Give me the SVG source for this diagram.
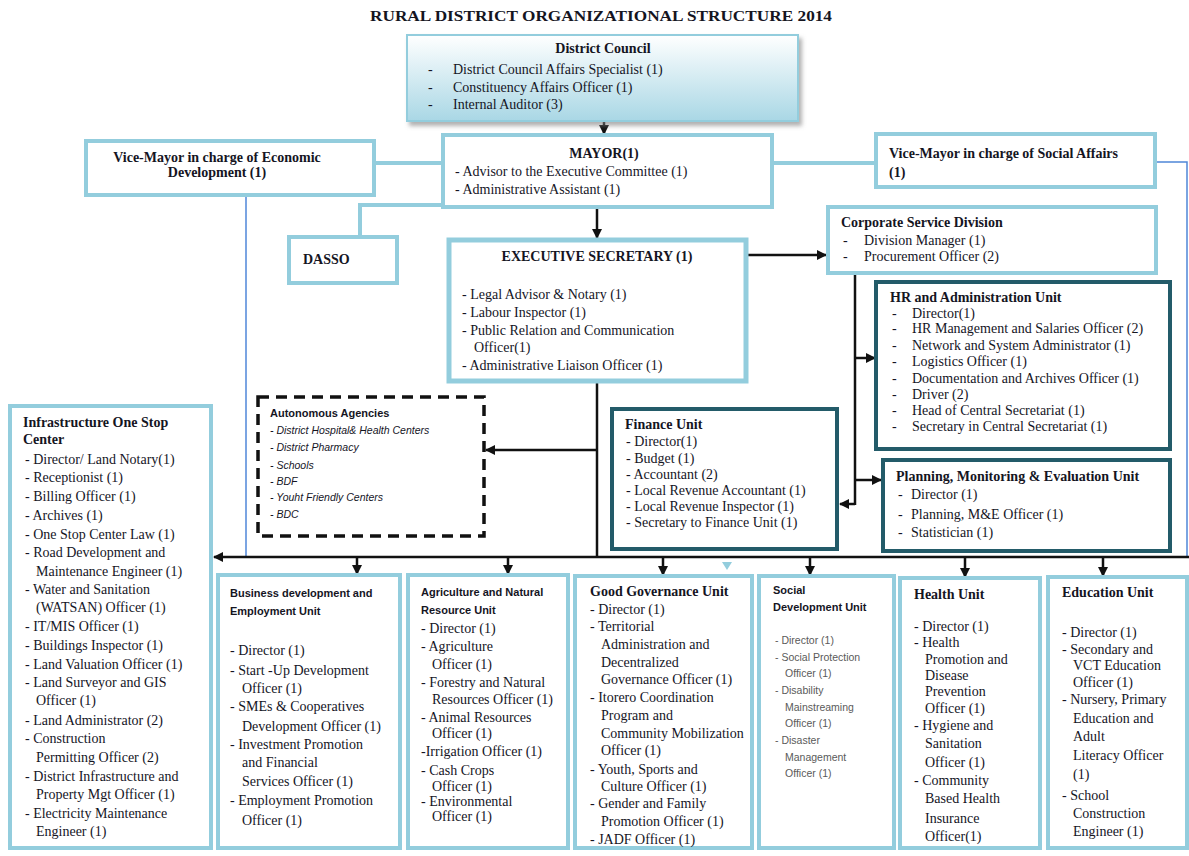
<svg xmlns="http://www.w3.org/2000/svg" width="1189" height="856" viewBox="0 0 1189 856">
<defs>
  <linearGradient id="councilFill" x1="0" y1="0" x2="0" y2="1">
    <stop offset="0" stop-color="#ffffff"/>
    <stop offset="1" stop-color="#a9d7e5"/>
  </linearGradient>
  <filter id="shadow" x="-5%" y="-10%" width="115%" height="130%">
    <feDropShadow dx="3" dy="4" stdDeviation="2" flood-color="#7f7f7f" flood-opacity="0.6"/>
  </filter>
  <marker id="arr" viewBox="0 0 10 10" refX="9" refY="5" markerWidth="10" markerHeight="10" markerUnits="userSpaceOnUse" orient="auto">
    <path d="M0,0 L10,5 L0,10 z" fill="#111"/>
  </marker>
</defs>
<style>
  text { font-family: "Liberation Serif", "DejaVu Serif", serif; font-size: 14px; fill: #15151f; }
  .b { font-weight: bold; }
  .c { text-anchor: middle; }
  .s { font-family: "Liberation Sans", Arial, sans-serif; font-size: 11px; }
  .si { font-family: "Liberation Sans", Arial, sans-serif; font-size: 10.5px; font-style: italic; }
  .sg { font-family: "Liberation Sans", Arial, sans-serif; font-size: 10.5px; fill: #5a5a5a; }
  .lb { fill: #ffffff; stroke: #93cddd; stroke-width: 4; }
  .dk { fill: #ffffff; stroke: #235b69; stroke-width: 4; }
  .ln { stroke: #111; stroke-width: 2.5; fill: none; }
  .bl { stroke: #93cddd; stroke-width: 4; fill: none; }
  .th { stroke: #4f86d8; stroke-width: 1.5; fill: none; }
</style>

<rect width="1189" height="856" fill="#ffffff"/>

<text class="b c" x="601" y="21" font-size="17" textLength="462" lengthAdjust="spacingAndGlyphs">RURAL DISTRICT ORGANIZATIONAL STRUCTURE 2014</text>

<!-- connectors -->
<g id="connectors">
  <line class="ln" x1="604" y1="121" x2="604" y2="134" marker-end="url(#arr)"/>
  <line class="bl" x1="374" y1="163" x2="443" y2="163"/>
  <line class="bl" x1="772" y1="163" x2="876" y2="163"/>
  <polyline class="bl" points="443,205 360,205 360,237"/>
  <line class="ln" x1="597" y1="207" x2="597" y2="238" marker-end="url(#arr)"/>
  <line class="ln" x1="746" y1="255" x2="826" y2="255" stroke-width="3" marker-end="url(#arr)"/>
  <line class="ln" x1="855" y1="273" x2="855" y2="505"/>
  <line class="ln" x1="855" y1="358" x2="875" y2="358" marker-end="url(#arr)"/>
  <line class="ln" x1="855" y1="480" x2="881" y2="480" marker-end="url(#arr)"/>
  <line class="ln" x1="855" y1="504" x2="840" y2="504" marker-end="url(#arr)"/>
  <line class="th" x1="246" y1="195" x2="246" y2="557"/>
  <polyline class="th" points="1157,162 1187,162 1187,557"/>
  <line class="ln" x1="597" y1="381" x2="597" y2="557" stroke-width="4"/>
  <line class="ln" x1="597" y1="450" x2="486" y2="450" marker-end="url(#arr)"/>
  <line class="ln" x1="1189" y1="557" x2="214" y2="557" stroke-width="3.5" marker-end="url(#arr)"/>
  <line class="ln" x1="357" y1="557" x2="357" y2="574" marker-end="url(#arr)"/>
  <line class="ln" x1="508" y1="557" x2="508" y2="574" marker-end="url(#arr)"/>
  <line class="ln" x1="663" y1="557" x2="663" y2="575" marker-end="url(#arr)"/>
  <line class="ln" x1="810" y1="557" x2="810" y2="575" marker-end="url(#arr)"/>
  <line class="ln" x1="965" y1="557" x2="965" y2="577" marker-end="url(#arr)"/>
  <line class="ln" x1="1103" y1="557" x2="1103" y2="576" marker-end="url(#arr)"/>
  <path d="M722,562 L732,562 L727,570 z" fill="#93cddd"/>
</g>

<g id="district-council">
  <rect x="407" y="35" width="391" height="86" fill="url(#councilFill)" stroke="#93cddd" stroke-width="2" filter="url(#shadow)"/>
  <text class="b c" x="603" y="53">District Council</text>
  <text x="428" y="74">-</text><text x="453" y="74">District Council Affairs Specialist (1)</text>
  <text x="428" y="92">-</text><text x="453" y="92">Constituency Affairs Officer (1)</text>
  <text x="428" y="109">-</text><text x="453" y="109">Internal Auditor (3)</text>
</g>

<g id="vice-mayor-economic">
  <rect class="lb" x="86" y="141" width="288" height="54"/>
  <text class="b c" x="217" y="162">Vice-Mayor in charge of Economic</text>
  <text class="b c" x="217" y="177">Development (1)</text>
</g>

<g id="mayor">
  <rect class="lb" x="443" y="135" width="329" height="72"/>
  <text class="b c" x="604" y="158">MAYOR(1)</text>
  <text x="455" y="176">- Advisor to the Executive Committee (1)</text>
  <text x="455" y="194">- Administrative Assistant (1)</text>
</g>

<g id="vice-mayor-social">
  <rect class="lb" x="876" y="134" width="279" height="53"/>
  <text class="b" x="889" y="158">Vice-Mayor in charge of Social Affairs</text>
  <text class="b" x="889" y="177">(1)</text>
</g>

<g id="dasso">
  <rect class="lb" x="289" y="237" width="108" height="46"/>
  <text class="b" x="303" y="264" font-size="16">DASSO</text>
</g>

<g id="executive-secretary">
  <rect x="449" y="240" width="297" height="141" fill="#fff" stroke="#93cddd" stroke-width="5"/>
  <text class="b c" x="597" y="261">EXECUTIVE SECRETARY (1)</text>
  <text x="462" y="299">- Legal Advisor &amp; Notary (1)</text>
  <text x="462" y="317">- Labour Inspector (1)</text>
  <text x="462" y="335">- Public Relation and Communication</text>
  <text x="474" y="352">Officer(1)</text>
  <text x="462" y="370">- Administrative Liaison Officer (1)</text>
</g>

<g id="corporate-service">
  <rect class="lb" x="828" y="207" width="328" height="66"/>
  <text class="b" x="841" y="227">Corporate Service Division</text>
  <text x="843" y="245">-</text><text x="864" y="245">Division Manager (1)</text>
  <text x="843" y="261">-</text><text x="864" y="261">Procurement Officer (2)</text>
</g>

<g id="hr-administration">
  <rect class="dk" x="876" y="282" width="294" height="167"/>
  <text class="b" x="890" y="302">HR and Administration Unit</text>
  <text x="892" y="318">-</text><text x="912" y="318">Director(1)</text>
  <text x="892" y="333">-</text><text x="912" y="333">HR Management and Salaries Officer  (2)</text>
  <text x="892" y="350">-</text><text x="912" y="350">Network and System Administrator (1)</text>
  <text x="892" y="366">-</text><text x="912" y="366">Logistics Officer (1)</text>
  <text x="892" y="383">-</text><text x="912" y="383">Documentation and Archives Officer (1)</text>
  <text x="892" y="399">-</text><text x="912" y="399">Driver (2)</text>
  <text x="892" y="415">-</text><text x="912" y="415">Head of Central Secretariat (1)</text>
  <text x="892" y="431">-</text><text x="912" y="431">Secretary in Central Secretariat (1)</text>
</g>

<g id="planning-me">
  <rect class="dk" x="883" y="460" width="287" height="91"/>
  <text class="b" x="896" y="481">Planning, Monitoring &amp; Evaluation Unit</text>
  <text x="898" y="499">-</text><text x="911" y="499">Director (1)</text>
  <text x="898" y="519">-</text><text x="911" y="519">Planning, M&amp;E Officer (1)</text>
  <text x="898" y="537">-</text><text x="911" y="537">Statistician (1)</text>
</g>

<g id="finance">
  <rect class="dk" x="612" y="409" width="225" height="140"/>
  <text class="b" x="625" y="429">Finance Unit</text>
  <text x="626" y="446">- Director(1)</text>
  <text x="626" y="463">- Budget (1)</text>
  <text x="626" y="479">- Accountant (2)</text>
  <text x="626" y="495">- Local Revenue Accountant (1)</text>
  <text x="626" y="511">- Local Revenue Inspector (1)</text>
  <text x="626" y="527">- Secretary to Finance Unit (1)</text>
</g>

<g id="autonomous-agencies">
  <rect x="258" y="397" width="226" height="139" fill="#fff" stroke="#111" stroke-width="3.5" stroke-dasharray="11 7"/>
  <text class="s b" x="270" y="417">Autonomous Agencies</text>
  <text class="si" x="270" y="434">- District Hospital&amp; Health Centers</text>
  <text class="si" x="270" y="451">- District Pharmacy</text>
  <text class="si" x="270" y="469">- Schools</text>
  <text class="si" x="270" y="485">- BDF</text>
  <text class="si" x="270" y="501">- Youht Friendly Centers</text>
  <text class="si" x="270" y="518">- BDC</text>
</g>

<g id="infrastructure">
  <rect class="lb" x="10" y="406" width="201" height="442"/>
  <text class="b" x="23" y="427">Infrastructure One Stop</text>
  <text class="b" x="23" y="444">Center</text>
  <text x="25" y="464">- Director/ Land Notary(1)</text>
  <text x="25" y="482">- Receptionist (1)</text>
  <text x="25" y="501">- Billing Officer (1)</text>
  <text x="25" y="520">- Archives (1)</text>
  <text x="25" y="539">- One Stop Center Law (1)</text>
  <text x="25" y="557">- Road Development and</text>
  <text x="36" y="576">Maintenance Engineer (1)</text>
  <text x="25" y="594">- Water and Sanitation</text>
  <text x="36" y="612">(WATSAN) Officer (1)</text>
  <text x="25" y="631">- IT/MIS Officer (1)</text>
  <text x="25" y="650">- Buildings Inspector (1)</text>
  <text x="25" y="669">- Land Valuation Officer (1)</text>
  <text x="25" y="687">- Land Surveyor and GIS</text>
  <text x="36" y="705">Officer (1)</text>
  <text x="25" y="725">- Land Administrator (2)</text>
  <text x="25" y="743">- Construction</text>
  <text x="36" y="762">Permitting Officer (2)</text>
  <text x="25" y="781">- District Infrastructure and</text>
  <text x="36" y="799">Property Mgt Officer (1)</text>
  <text x="25" y="818">- Electricity Maintenance</text>
  <text x="36" y="836">Engineer (1)</text>
</g>

<g id="business-development">
  <rect class="lb" x="218" y="575" width="182" height="273"/>
  <text class="s b" x="230" y="597">Business development and</text>
  <text class="s b" x="230" y="615">Employment Unit</text>
  <text x="230" y="655">- Director (1)</text>
  <text x="230" y="675">- Start -Up Development</text>
  <text x="242" y="693">Officer (1)</text>
  <text x="230" y="711">- SMEs &amp; Cooperatives</text>
  <text x="242" y="731">Development Officer (1)</text>
  <text x="230" y="749">- Investment Promotion</text>
  <text x="242" y="767">and Financial</text>
  <text x="242" y="786">Services Officer (1)</text>
  <text x="230" y="805">- Employment Promotion</text>
  <text x="242" y="825">Officer (1)</text>
</g>

<g id="agriculture">
  <rect class="lb" x="408" y="575" width="160" height="273"/>
  <text class="s b" x="421" y="596">Agriculture and Natural</text>
  <text class="s b" x="421" y="614">Resource Unit</text>
  <text x="421" y="633">- Director (1)</text>
  <text x="421" y="651">- Agriculture</text>
  <text x="432" y="669">Officer (1)</text>
  <text x="421" y="687">- Forestry and Natural</text>
  <text x="432" y="704">Resources Officer (1)</text>
  <text x="421" y="722">- Animal Resources</text>
  <text x="432" y="738">Officer (1)</text>
  <text x="421" y="756">-Irrigation Officer (1)</text>
  <text x="421" y="775">- Cash Crops</text>
  <text x="432" y="791">Officer (1)</text>
  <text x="421" y="806">- Environmental</text>
  <text x="432" y="821">Officer (1)</text>
</g>

<g id="good-governance">
  <rect class="lb" x="575" y="576" width="177" height="272"/>
  <text class="b" x="590" y="596">Good Governance Unit</text>
  <text x="590" y="614">- Director (1)</text>
  <text x="590" y="631">- Territorial</text>
  <text x="601" y="649">Administration and</text>
  <text x="601" y="667">Decentralized</text>
  <text x="601" y="684">Governance Officer  (1)</text>
  <text x="590" y="702">- Itorero Coordination</text>
  <text x="601" y="720">Program and</text>
  <text x="601" y="738">Community Mobilization</text>
  <text x="601" y="755">Officer  (1)</text>
  <text x="590" y="774">- Youth, Sports and</text>
  <text x="601" y="791">Culture Officer (1)</text>
  <text x="590" y="808">- Gender and Family</text>
  <text x="601" y="826">Promotion Officer (1)</text>
  <text x="590" y="844">- JADF Officer (1)</text>
</g>

<g id="social-development">
  <rect class="lb" x="759" y="576" width="135" height="272"/>
  <text class="s b" x="773" y="594">Social</text>
  <text class="s b" x="773" y="611">Development Unit</text>
  <text class="sg" x="775" y="644">- Director (1)</text>
  <text class="sg" x="775" y="661">- Social Protection</text>
  <text class="sg" x="785" y="677">Officer (1)</text>
  <text class="sg" x="775" y="694">- Disability</text>
  <text class="sg" x="785" y="711">Mainstreaming</text>
  <text class="sg" x="785" y="727">Officer (1)</text>
  <text class="sg" x="775" y="744">- Disaster</text>
  <text class="sg" x="785" y="761">Management</text>
  <text class="sg" x="785" y="777">Officer (1)</text>
</g>

<g id="health">
  <rect class="lb" x="900" y="578" width="140" height="270"/>
  <text class="b" x="914" y="599">Health Unit</text>
  <text x="914" y="631">- Director (1)</text>
  <text x="914" y="647">- Health</text>
  <text x="925" y="664">Promotion and</text>
  <text x="925" y="680">Disease</text>
  <text x="925" y="696">Prevention</text>
  <text x="925" y="713">Officer (1)</text>
  <text x="914" y="730">- Hygiene and</text>
  <text x="925" y="748">Sanitation</text>
  <text x="925" y="767">Officer (1)</text>
  <text x="914" y="785">- Community</text>
  <text x="925" y="803">Based Health</text>
  <text x="925" y="823">Insurance</text>
  <text x="925" y="841">Officer(1)</text>
</g>

<g id="education">
  <rect class="lb" x="1048" y="577" width="139" height="271"/>
  <text class="b" x="1062" y="597">Education Unit</text>
  <text x="1062" y="637">- Director (1)</text>
  <text x="1062" y="654">- Secondary and</text>
  <text x="1073" y="670">VCT Education</text>
  <text x="1073" y="687">Officer (1)</text>
  <text x="1062" y="704">- Nursery, Primary</text>
  <text x="1073" y="723">Education and</text>
  <text x="1073" y="741">Adult</text>
  <text x="1073" y="760">Literacy Officer</text>
  <text x="1073" y="779">(1)</text>
  <text x="1062" y="800">- School</text>
  <text x="1073" y="818">Construction</text>
  <text x="1073" y="836">Engineer (1)</text>
</g>
</svg>
